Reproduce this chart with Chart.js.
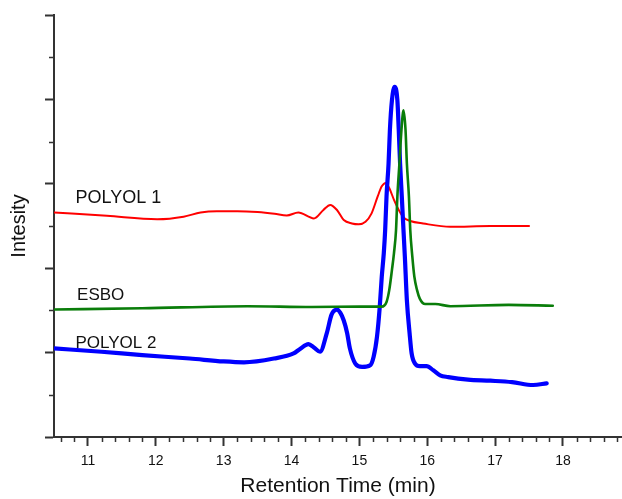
<!DOCTYPE html>
<html>
<head>
<meta charset="utf-8">
<script src="https://cdn.jsdelivr.net/npm/chart.js@4.4.1/dist/chart.umd.min.js"></script>
<style>
  html, body { margin: 0; padding: 0; background: #fff; }
  #wrap { position: relative; width: 622px; height: 499px; }
</style>
</head>
<body>
<div id="wrap"><canvas id="gpc"></canvas></div>
<script>
// GPC traces: retention time (min) vs detector response, stacked with offsets
const seriesNames = ['POLYOL 1', 'ESBO', 'POLYOL 2'];

const polyol1Time = [10.5, 11.28, 12.02, 12.41, 12.66, 12.9, 13.2, 13.5, 13.75, 13.93, 14.1, 14.33, 14.47, 14.57,
  14.67, 14.77, 14.89, 14.99, 15.09, 15.18, 15.27, 15.33, 15.39, 15.44, 15.51, 15.58, 15.65, 15.75, 15.94, 16.34,
  16.93, 17.5];
const polyol1Signal = [2.66, 2.62, 2.58, 2.61, 2.66, 2.675, 2.675, 2.665, 2.645, 2.625, 2.66, 2.59, 2.69, 2.75,
  2.69, 2.57, 2.53, 2.52, 2.55, 2.65, 2.85, 2.97, 3.01, 2.95, 2.81, 2.69, 2.6, 2.56, 2.53, 2.49,
  2.5, 2.5];

const esboTime = [10.5, 11.8, 13.35, 14.3, 15.0, 15.33, 15.4, 15.44, 15.48, 15.51, 15.54, 15.56, 15.59, 15.62,
  15.65, 15.68, 15.7, 15.73, 15.75, 15.78, 15.81, 15.85, 15.89, 15.97, 16.12, 16.34, 17.2, 17.85];
const esboSignal = [1.51, 1.525, 1.55, 1.54, 1.545, 1.545, 1.6, 1.74, 1.98, 2.18, 2.45, 2.85, 3.24, 3.64,
  3.87, 3.64, 3.24, 2.85, 2.45, 2.14, 1.9, 1.74, 1.64, 1.575, 1.575, 1.55, 1.565, 1.555];

const polyol2Time = [10.5, 11.2, 11.8, 12.5, 13.0, 13.3, 13.74, 14.03, 14.12, 14.25, 14.33, 14.42, 14.52, 14.59,
  14.67, 14.72, 14.77, 14.82, 14.86, 14.94, 15.04, 15.16, 15.21, 15.26, 15.3, 15.33, 15.36, 15.38, 15.4, 15.43,
  15.45, 15.48, 15.52, 15.56, 15.58, 15.6, 15.625, 15.65, 15.67, 15.7, 15.74, 15.77, 15.82, 15.89, 15.99, 16.09,
  16.19, 16.31, 16.6, 16.93, 17.25, 17.56, 17.76];
const polyol2Signal = [1.05, 1.01, 0.97, 0.93, 0.895, 0.885, 0.93, 0.99, 1.04, 1.1, 1.06, 1.01, 1.23, 1.45,
  1.51, 1.47, 1.38, 1.23, 1.05, 0.87, 0.83, 0.85, 0.95, 1.19, 1.54, 1.9, 2.18, 2.45, 2.85, 3.24,
  3.64, 3.99, 4.15, 3.99, 3.64, 3.24, 2.85, 2.45, 2.14, 1.62, 1.23, 0.99, 0.87, 0.84, 0.84, 0.79,
  0.73, 0.71, 0.68, 0.667, 0.65, 0.616, 0.636];

const xTicks = [11, 12, 13, 14, 15, 16, 17, 18];

const AXIS = '#333333';
Chart.defaults.font.family = "'Liberation Sans', Arial, sans-serif";
Chart.defaults.color = '#111';

const toPoints = (xs, ys) => xs.map((x, i) => ({ x, y: ys[i] }));

// minor tick marks (0.2 min on x, 0.5 on y) and the trace names
const decorations = {
  id: 'decorations',
  afterDraw(chart, args, opts) {
    const { ctx, scales: { x, y } } = chart;
    ctx.save();
    ctx.strokeStyle = AXIS;
    ctx.lineWidth = 1.5;
    ctx.beginPath();
    for (let i = Math.ceil(x.min * 5); i <= Math.floor(x.max * 5); i++) {
      if (i % 5 === 0) continue;
      const px = Math.round(x.getPixelForValue(i / 5)) + 0.5;
      ctx.moveTo(px, y.bottom);
      ctx.lineTo(px, y.bottom + 5);
    }
    for (let i = 1; i < y.max * 2; i += 2) {
      const py = Math.round(y.getPixelForValue(i / 2)) + 0.5;
      ctx.moveTo(x.left, py);
      ctx.lineTo(x.left - 5, py);
    }
    ctx.stroke();

    ctx.fillStyle = '#111';
    ctx.textBaseline = 'alphabetic';
    ctx.textAlign = 'left';
    opts.tags.forEach(t => {
      ctx.font = t.size + "px 'Liberation Sans', Arial, sans-serif";
      ctx.fillText(t.text, x.getPixelForValue(t.x), y.getPixelForValue(t.y));
    });
    ctx.restore();
  }
};

new Chart(document.getElementById('gpc'), {
  type: 'line',
  data: {
    datasets: [
      {
        label: seriesNames[1],
        data: toPoints(esboTime, esboSignal),
        borderColor: '#0a7d0a',
        borderWidth: 2.6
      },
      {
        label: seriesNames[2],
        data: toPoints(polyol2Time, polyol2Signal),
        borderColor: '#0000ff',
        borderWidth: 4.2
      },
      {
        label: seriesNames[0],
        data: toPoints(polyol1Time, polyol1Signal),
        borderColor: '#ff0000',
        borderWidth: 2
      }
    ]
  },
  options: {
    responsive: true,
    maintainAspectRatio: false,
    animation: false,
    layout: { padding: { top: 15, right: 0, bottom: 0, left: 0 } },
    elements: {
      point: { radius: 0 },
      line: { cubicInterpolationMode: 'monotone', fill: false, borderJoinStyle: 'round', borderCapStyle: 'round' }
    },
    plugins: {
      legend: { display: false },
      tooltip: { enabled: false },
      decorations: {
        tags: [
          { text: seriesNames[0], x: 10.816, y: 2.776, size: 18 },
          { text: seriesNames[1], x: 10.84, y: 1.623, size: 17 },
          { text: seriesNames[2], x: 10.816, y: 1.058, size: 17 }
        ]
      }
    },
    scales: {
      x: {
        type: 'linear',
        min: 10.5,
        max: 18.87,
        afterBuildTicks(scale) { scale.ticks = xTicks.map(v => ({ value: v })); },
        ticks: { font: { size: 14 }, color: '#111', padding: 7, maxRotation: 0 },
        grid: { drawOnChartArea: false, tickLength: 9, tickColor: AXIS, tickWidth: 2 },
        border: { color: AXIS, width: 2 },
        title: {
          display: true, text: 'Retention Time (min)', color: '#111',
          font: { size: 21 }, padding: { top: 0, bottom: 0 }
        },
        afterFit(scale) { scale.height = 62; }
      },
      y: {
        min: 0,
        max: 5,
        ticks: { stepSize: 1, display: false },
        grid: { drawOnChartArea: false, tickLength: 9, tickColor: AXIS, tickWidth: 2 },
        border: { color: AXIS, width: 2 },
        title: {
          display: true, text: 'Intesity', color: '#111',
          font: { size: 20 }, padding: { top: 7, bottom: 0 }
        },
        afterFit(scale) { scale.width = 54; }
      }
    }
  },
  plugins: [decorations]
});
</script>
</body>
</html>
